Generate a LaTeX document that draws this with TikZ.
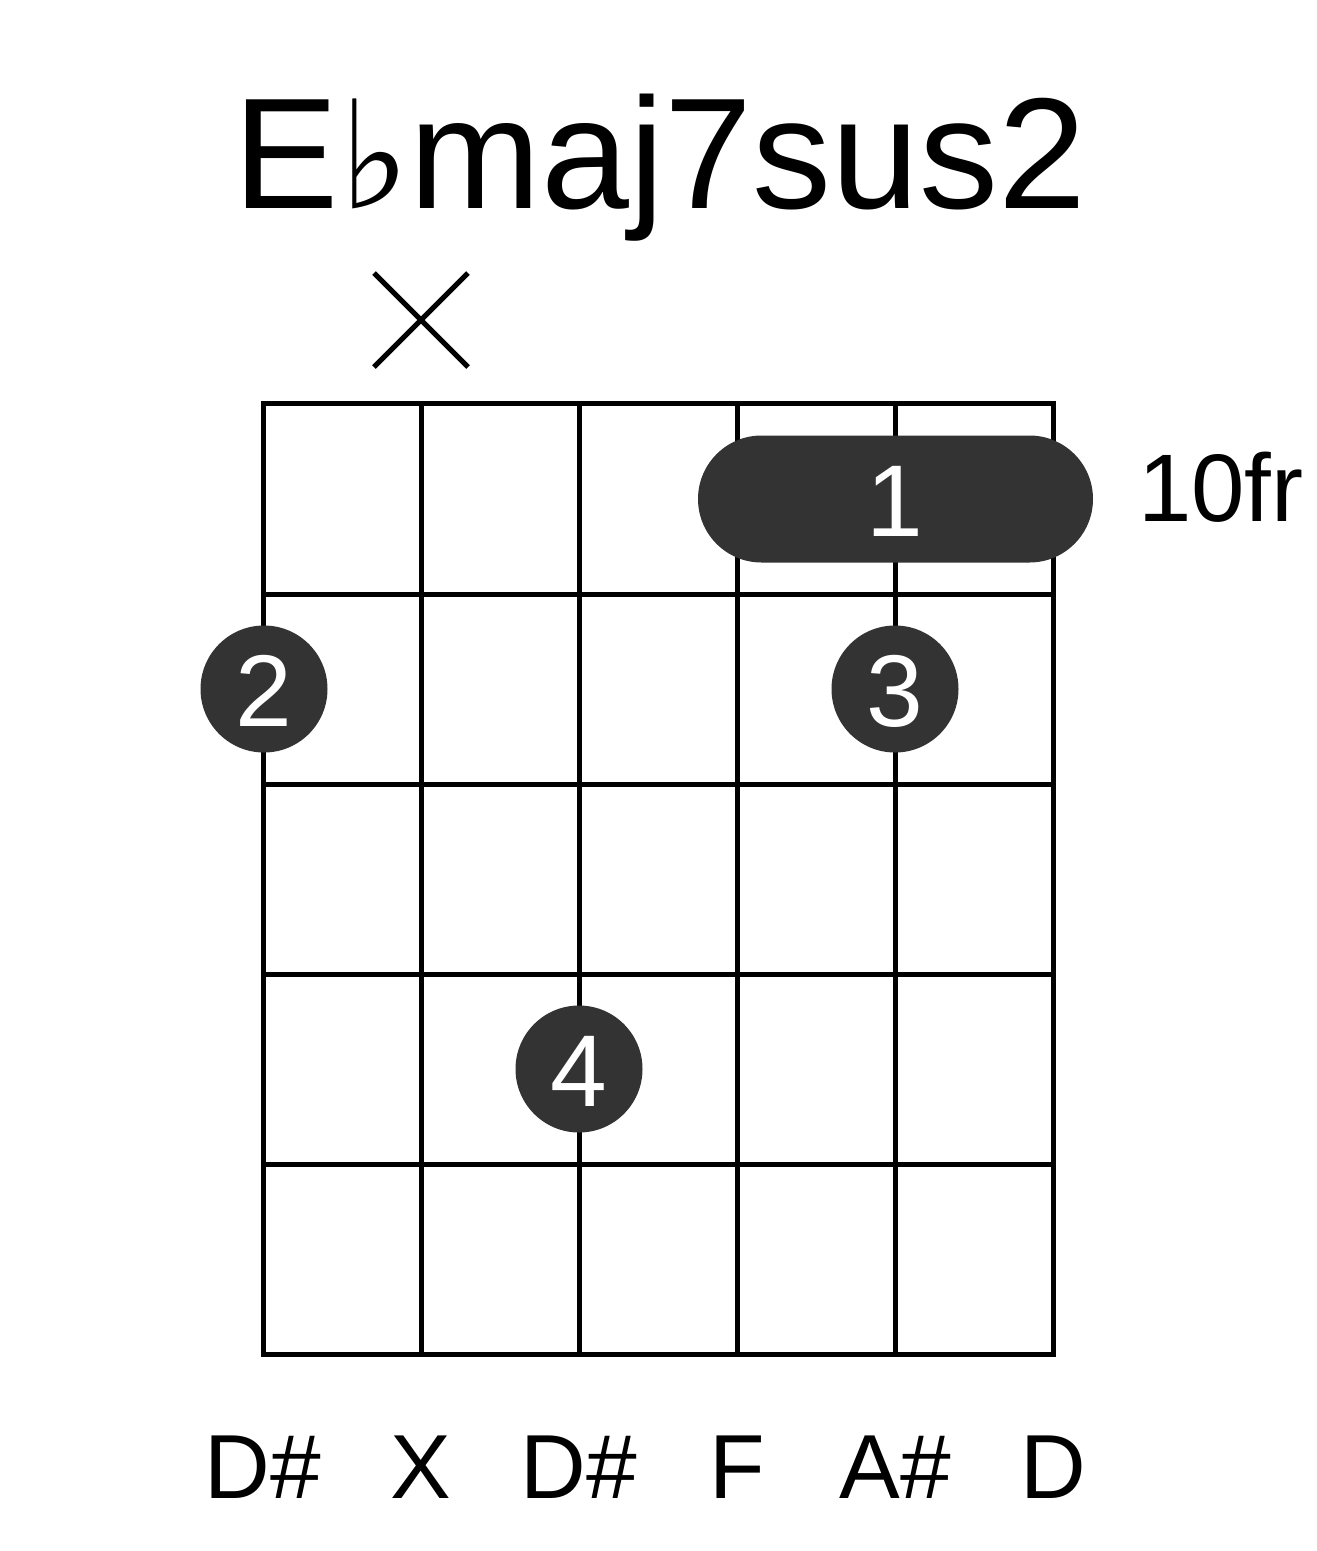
\documentclass[tikz,border=0pt]{standalone}
\usepackage{fontspec}
\setmainfont{Liberation Sans}
\newfontfamily\symfont{DejaVu Sans}
\definecolor{dotgray}{HTML}{333333}
\usetikzlibrary{shapes.misc}
\tikzset{
  gridline/.style={line width=5pt, black},
  fingerdot/.style={circle, fill=dotgray, minimum size=127pt, inner sep=0pt},
  barrebox/.style={rounded rectangle, fill=dotgray, minimum width=395pt, minimum height=127pt, inner sep=0pt},
  fingernum/.style={anchor=base, text=white, font=\fontsize{102pt}{102pt}\selectfont, inner sep=0pt},
  strlabel/.style={anchor=base, inner sep=0pt, font=\fontsize{91pt}{91pt}\selectfont},
  mutemark/.style={line width=5pt, black}
}
\begin{document}
\begin{tikzpicture}[x=1pt,y=-1pt]
\useasboundingbox (0,0) rectangle (1317,1551);
% title
\node[anchor=base, font=\fontsize{158pt}{158pt}\selectfont, inner sep=0pt] (title) at (660,208) {E{\symfont\fontsize{150pt}{150pt}\selectfont ♭}maj7sus2};
% grid
\foreach \i/\x in {1/263,2/421,3/579,4/737,5/895,6/1053}{
  \coordinate (s\i top) at (\x,403);
  \coordinate (s\i bot) at (\x,1354);
  \draw[gridline] (s\i top) -- (s\i bot);
}
\foreach \j/\y in {0/403,1/594,2/784,3/974,4/1164,5/1354}{
  \coordinate (f\j l) at (263,\y);
  \coordinate (f\j r) at (1053,\y);
  \draw[gridline, line cap=rect] (f\j l) -- (f\j r);
}
% mute mark
\coordinate (mA) at (374,273);
\coordinate (mB) at (468,367);
\coordinate (mC) at (468,273);
\coordinate (mD) at (374,367);
\draw[mutemark] (mA) -- (mB);
\draw[mutemark] (mC) -- (mD);
% barre
\node[barrebox] (barre) at (895.5,499) {};
\node[fingernum] (b1) at (895,536) {1};
% dots
\node[fingerdot] (d2) at (264,689) {};
\node[fingernum] (t2) at (264,726) {2};
\node[fingerdot] (d3) at (895,689) {};
\node[fingernum] (t3) at (895,726) {3};
\node[fingerdot] (d4) at (579,1069) {};
\node[fingernum] (t4) at (579,1106) {4};
% fret label
\node[anchor=base west, font=\fontsize{96pt}{96pt}\selectfont, inner sep=0pt] (fr) at (1138,521) {10fr};
% string labels
\node[strlabel] (n1) at (263,1498) {D\#};
\node[strlabel] (n2) at (421,1498) {X};
\node[strlabel] (n3) at (579,1498) {D\#};
\node[strlabel] (n4) at (737,1498) {F};
\node[strlabel] (n5) at (895,1498) {A\#};
\node[strlabel] (n6) at (1053,1498) {D};
\end{tikzpicture}
\end{document}
